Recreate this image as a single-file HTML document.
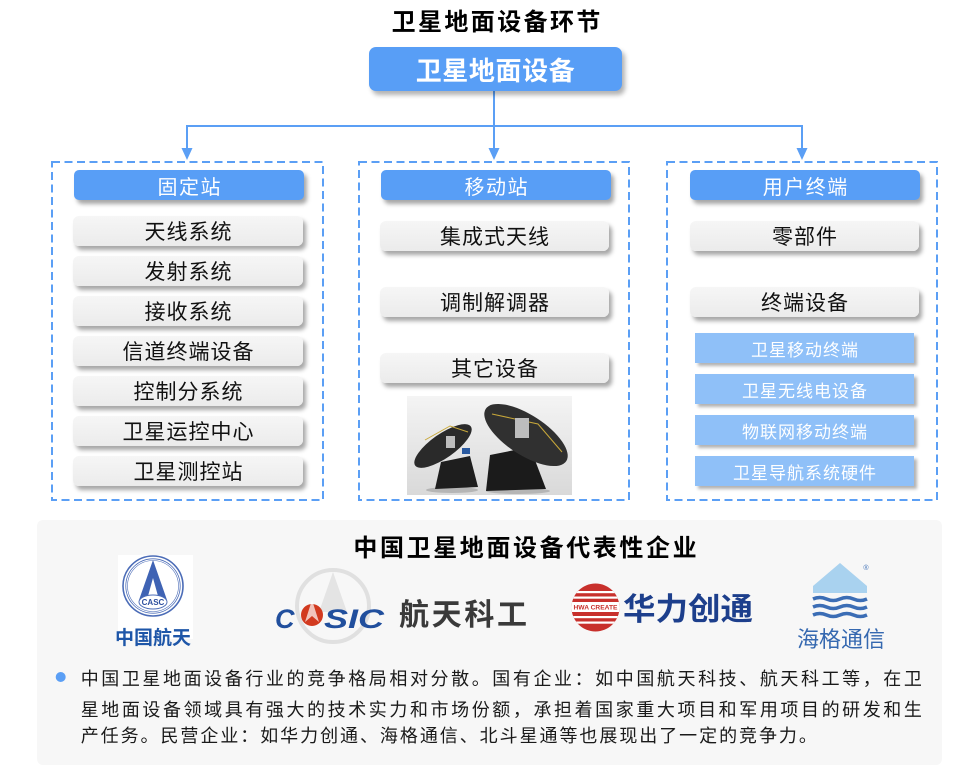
<!DOCTYPE html>
<html><head><meta charset="utf-8">
<style>
*{margin:0;padding:0;box-sizing:border-box}
body{width:954px;height:772px;background:#fff;position:relative;overflow:hidden;font-family:"Liberation Sans","Noto Sans CJK SC",sans-serif}
.c{position:absolute;display:flex;align-items:center;justify-content:center;white-space:nowrap}
.hd{background:#589ef6;color:#fff;font-size:20px;letter-spacing:1.5px;padding-left:1.5px;border-radius:5px;box-shadow:3px 4px 4px rgba(0,0,0,.35);height:30px;width:230px;top:170px}
.gp{background:linear-gradient(#f6f6f6,#ebebeb);color:#111;font-size:21px;letter-spacing:1px;padding-left:1px;border-radius:6px;box-shadow:3px 4px 4px rgba(0,0,0,.35);height:30px;width:230px}
.lb{background:#8fc0f8;color:#fff;font-size:17px;letter-spacing:1px;padding-left:1px;box-shadow:3px 3px 3px rgba(0,0,0,.3);height:30px;width:219px;left:695px}
.t{position:absolute;white-space:nowrap;font-size:18px;line-height:28px;color:#1a1a1a}
</style></head><body>
<svg width="954" height="772" style="position:absolute;left:0;top:0" xmlns="http://www.w3.org/2000/svg">
<defs>
<linearGradient id="bg" x1="0" y1="0" x2="0" y2="1"><stop offset="0" stop-color="#f4f4f4"/><stop offset="1" stop-color="#d9d9d9"/></linearGradient>
<clipPath id="hc"><circle cx="595.5" cy="607.5" r="24"/></clipPath>
</defs>
<rect x="37" y="520" width="905" height="245" rx="6" fill="#f7f7f7"/>
<!-- connectors -->
<g stroke="#5b9ff5" stroke-width="2" fill="none">
<line x1="494" y1="91" x2="494" y2="126"/>
<line x1="186" y1="126" x2="803" y2="126"/>
<line x1="187" y1="126" x2="187" y2="150"/>
<line x1="494" y1="126" x2="494" y2="150"/>
<line x1="802" y1="126" x2="802" y2="150"/>
</g>
<g fill="#5b9ff5">
<polygon points="181.5,148 192.5,148 187,160"/>
<polygon points="488.5,148 499.5,148 494,160"/>
<polygon points="796.5,148 807.5,148 802,160"/>
</g>
<g stroke="#5b9ff5" stroke-width="2" fill="none" stroke-dasharray="8 4.5">
<rect x="52" y="162" width="271" height="338"/>
<rect x="359" y="162" width="270" height="338"/>
<rect x="667" y="162" width="270" height="338"/>
</g>
<!-- dish image -->
<rect x="407" y="396" width="165" height="99" fill="url(#bg)"/>
<ellipse cx="452" cy="490" rx="26" ry="3" fill="#b5b5b5"/>
<ellipse cx="518" cy="491" rx="32" ry="3" fill="#b5b5b5"/>
<path d="M435 489 L441 462 L470 456 L478 487 Z" fill="#1e1e1e"/>
<ellipse cx="443" cy="446" rx="34" ry="12" transform="rotate(-35 443 446)" fill="#2a2a2a"/>
<rect x="462" y="448" width="8" height="6" fill="#2a5aa0"/>
<path d="M486 491 L490 455 L530 447 L546 489 Z" fill="#1b1b1b"/>
<ellipse cx="526" cy="435" rx="48" ry="20" transform="rotate(33 526 435)" fill="#303030"/>
<path d="M492 414 L538 424 L562 452" stroke="#c8a83a" fill="none" stroke-width="1"/>
<path d="M425 440 L450 426 L468 432" stroke="#c8a83a" fill="none" stroke-width="1"/>
<rect x="515" y="418" width="14" height="20" fill="#bdbdbd"/>
<rect x="446" y="436" width="9" height="12" fill="#bdbdbd"/>
<!-- CASC -->
<rect x="118" y="555" width="75" height="84" fill="#fff"/>
<circle cx="153" cy="586" r="30" fill="none" stroke="#4b6cb7" stroke-width="1.6"/>
<circle cx="153" cy="586" r="27.2" fill="none" stroke="#4b6cb7" stroke-width="0.8"/>
<circle cx="153" cy="586" r="25.5" fill="none" stroke="#4b6cb7" stroke-width="0.6"/>
<path d="M153 560 L139 600 L148 596 L153 578 L158 596 L167 600 Z" fill="#3f63b4"/>
<ellipse cx="153" cy="602" rx="14" ry="7" fill="#fff" stroke="#4b6cb7" stroke-width="1"/>
<text x="153" y="605" font-size="8" font-weight="bold" fill="#2d4f9e" text-anchor="middle" font-family="Liberation Sans, sans-serif">CASC</text>
<text x="153" y="644" font-size="19" font-weight="bold" fill="#1e56a8" text-anchor="middle" font-family="Liberation Sans, Noto Sans CJK SC, sans-serif">中国航天</text>
<!-- CASIC -->
<circle cx="333" cy="606" r="36" fill="none" stroke="#e0e0e0" stroke-width="4"/>
<path d="M333 572 L319 612 L347 612 Z" fill="#e4e4e4"/>
<text x="275" y="628" font-size="27" font-weight="bold" font-style="italic" fill="#214f9d" font-family="Liberation Sans, sans-serif">C</text>
<circle cx="312" cy="615" r="11" fill="#d23a1f"/>
<path d="M312 600 L305 622 L312 616 L319 622 Z" fill="#fff" opacity="0.7"/>
<text x="324" y="628" font-size="27" font-weight="bold" font-style="italic" fill="#214f9d" textLength="60" lengthAdjust="spacingAndGlyphs" font-family="Liberation Sans, sans-serif">SIC</text>
<text x="399" y="625" font-size="30" font-weight="bold" fill="#3a3a3a" textLength="128" lengthAdjust="spacing" font-family="Liberation Sans, Noto Sans CJK SC, sans-serif">航天科工</text>
<!-- HWA CREATE -->
<g clip-path="url(#hc)">
<rect x="571" y="583" width="50" height="50" fill="#c8302c"/>
<rect x="571" y="591" width="50" height="2.2" fill="#fff"/>
<rect x="571" y="596.5" width="50" height="2.2" fill="#fff"/>
<rect x="571" y="602" width="50" height="10" fill="#fff"/>
<rect x="571" y="616" width="50" height="2.2" fill="#fff"/>
<rect x="571" y="621.5" width="50" height="2.2" fill="#fff"/>
</g>
<text x="595.5" y="609.5" font-size="6.5" font-weight="bold" fill="#c8302c" text-anchor="middle" textLength="44" lengthAdjust="spacingAndGlyphs" font-family="Liberation Sans, sans-serif">HWA CREATE</text>
<text x="623" y="620" font-size="31" font-weight="bold" fill="#1d3f8c" textLength="130" lengthAdjust="spacingAndGlyphs" font-family="Liberation Sans, Noto Sans CJK SC, sans-serif">华力创通</text>
<!-- Haige -->
<polygon points="840,563 867,586 867,593 813,593 813,586" fill="#a9d2ef"/>
<g stroke="#3b6db5" stroke-width="3.5" fill="none">
<path d="M813 599 q6.75 -3 13.5 0 t13.5 0 t13.5 0 t13.5 0"/>
<path d="M813 607 q6.75 -3 13.5 0 t13.5 0 t13.5 0 t13.5 0"/>
<path d="M813 615 q6.75 -3 13.5 0 t13.5 0 t13.5 0 t13.5 0"/>
</g>
<text x="866" y="570" font-size="7" fill="#3b6db5" text-anchor="middle" font-family="Liberation Sans, sans-serif">®</text>
<text x="841" y="647" font-size="22" fill="#3568b0" text-anchor="middle" font-family="Liberation Sans, Noto Sans CJK SC, sans-serif">海格通信</text>
<circle cx="60.7" cy="677" r="5" fill="#5b9ff5"/>
</svg>

<div class="c" style="left:340px;top:4px;width:312px;height:30px;font-size:24px;font-weight:bold;letter-spacing:2.4px;padding-left:2.4px;color:#000">卫星地面设备环节</div>
<div class="c" style="left:369px;top:47px;width:253px;height:44px;background:#589ef6;border-radius:7px;box-shadow:3px 4px 5px rgba(0,0,0,.3);color:#fff;font-size:26px;font-weight:bold;letter-spacing:0.6px">卫星地面设备</div>

<div class="c hd" style="left:74px">固定站</div>
<div class="c hd" style="left:381px">移动站</div>
<div class="c hd" style="left:690px">用户终端</div>

<div class="c gp" style="left:73px;top:216px">天线系统</div>
<div class="c gp" style="left:73px;top:256px">发射系统</div>
<div class="c gp" style="left:73px;top:296px">接收系统</div>
<div class="c gp" style="left:73px;top:336px">信道终端设备</div>
<div class="c gp" style="left:73px;top:376px">控制分系统</div>
<div class="c gp" style="left:73px;top:416px">卫星运控中心</div>
<div class="c gp" style="left:73px;top:456px">卫星测控站</div>

<div class="c gp" style="left:380px;top:221px;width:229px">集成式天线</div>
<div class="c gp" style="left:380px;top:287px;width:229px">调制解调器</div>
<div class="c gp" style="left:380px;top:353px;width:229px">其它设备</div>

<div class="c gp" style="left:690px;top:221px;width:229px">零部件</div>
<div class="c gp" style="left:690px;top:287px;width:229px">终端设备</div>
<div class="c lb" style="top:333px">卫星移动终端</div>
<div class="c lb" style="top:374px">卫星无线电设备</div>
<div class="c lb" style="top:415px">物联网移动终端</div>
<div class="c lb" style="top:456px">卫星导航系统硬件</div>

<div class="c" style="left:300px;top:530px;width:450px;height:30px;font-size:24px;font-weight:bold;letter-spacing:2.6px;padding-left:2.6px;color:#000">中国卫星地面设备代表性企业</div>

<div class="t" style="left:80.7px;top:665px;letter-spacing:2.58px">中国卫星地面设备行业的竞争格局相对分散。国有企业：如中国航天科技、航天科工等，在卫</div>
<div class="t" style="left:80.7px;top:696px;letter-spacing:2.58px">星地面设备领域具有强大的技术实力和市场份额，承担着国家重大项目和军用项目的研发和生</div>
<div class="t" style="left:80.7px;top:722px;letter-spacing:1.95px">产任务。民营企业：如华力创通、海格通信、北斗星通等也展现出了一定的竞争力。</div>
</body></html>
